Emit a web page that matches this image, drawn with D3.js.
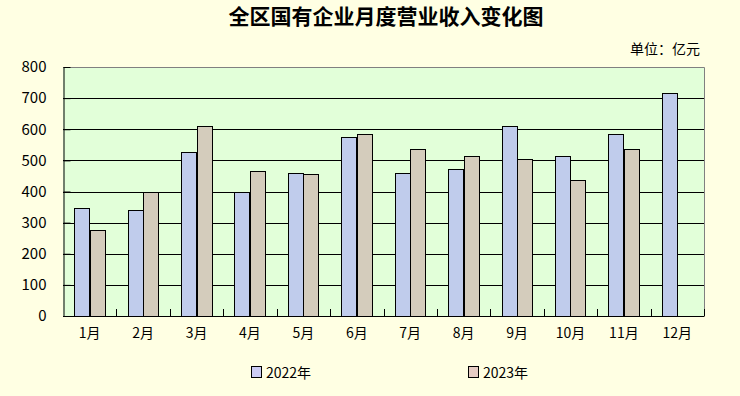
<!DOCTYPE html>
<html><head><meta charset="utf-8">
<script src="https://cdn.jsdelivr.net/npm/d3@7"></script>
<style>
html,body{margin:0;padding:0;background:#FFFFE3;}
svg{display:block;}
text{font-family:"Noto Sans CJK SC","DejaVu Sans",sans-serif;fill:#000;}
</style></head>
<body>
<script>
const months = ["1月","2月","3月","4月","5月","6月","7月","8月","9月","10月","11月","12月"];
const series = ["2022年","2023年"];
const values2022 = [346, 340, 526, 397, 460, 576, 461, 471, 610, 513, 584, 717];
const values2023 = [275, 400, 609, 467, 457, 586, 536, 513, 506, 438, 536, null];
const yTicks = [0,100,200,300,400,500,600,700,800];
const barColors = ["#C0CCEC","#D4CCBC"];
const legendColors = ["#CCCCF4","#E6CCC4"];

const W = 740, H = 396;
const m = {left:63, right:36, top:67, bottom:80};
const svg = d3.select("body").append("svg").attr("width",W).attr("height",H);

svg.append("rect").attr("width",W).attr("height",H).attr("fill","#FFFFE3");

const x = d3.scaleBand().domain(months).range([m.left, W-m.right]);
const y = d3.scaleLinear().domain([0,800]).range([H-m.bottom, m.top]);
const pw = W-m.right-m.left;

// plot background
svg.append("rect").attr("x",m.left).attr("y",m.top).attr("width",pw).attr("height",y(0)-m.top)
  .attr("fill","#E2FFD9");

// grid lines
svg.append("g").selectAll("line").data(yTicks.filter(d=>d>0 && d<800)).join("line")
  .attr("x1",m.left).attr("x2",W-m.right).attr("y1",d=>Math.round(y(d))+0.5).attr("y2",d=>Math.round(y(d))+0.5)
  .attr("stroke","#000").attr("stroke-width",1);

// border top/right grey
svg.append("path")
  .attr("d",`M${m.left},${Math.round(y(800))+0.5}H${W-m.right+0.5}V${y(0)}`)
  .attr("fill","none").attr("stroke","#808080");

// bars
const bw = x.bandwidth()*0.29;
const data = months.map((mo,i)=>({mo, v:[values2022[i], values2023[i]]}));
const g = svg.append("g");
data.forEach(d=>{
  const c = x(d.mo)+x.bandwidth()/2;
  d.v.forEach((v,k)=>{
    if(v==null) return;
    g.append("rect")
      .attr("x", Math.round(c - bw + k*bw)+0.5)
      .attr("y", Math.round(y(v))+0.5)
      .attr("width", Math.round(bw))
      .attr("height", Math.round(y(0)) - Math.round(y(v)))
      .attr("fill", barColors[k]).attr("stroke","#000").attr("stroke-width",1);
  });
});

// y axis
const yAxis = d3.axisLeft(y).tickValues(yTicks).tickSizeInner(-7).tickSizeOuter(0).tickPadding(17);
const ya = svg.append("g").attr("transform",`translate(${m.left+0.5},0)`).call(yAxis);
ya.select(".domain").attr("stroke","#000");
ya.selectAll(".tick line").attr("stroke","#000");
ya.selectAll("text").attr("font-size",15).attr("font-family","'Liberation Serif','DejaVu Serif',serif");

// x axis
const xAxis = d3.axisBottom(x).tickSize(0).tickPadding(12);
const xa = svg.append("g").attr("transform",`translate(0,${Math.round(y(0))+0.5})`).call(xAxis);
xa.select(".domain").attr("stroke","#000").attr("d",`M${m.left},0H${W-m.right+0.5}`);
xa.selectAll("text").attr("font-size",14);
// boundary ticks (inside)
svg.append("g").selectAll("line").data(months.slice(1).concat(["end"])).join("line")
  .attr("x1",d=> d==="end" ? W-m.right+0.5 : Math.round(x(d))+0.5)
  .attr("x2",d=> d==="end" ? W-m.right+0.5 : Math.round(x(d))+0.5)
  .attr("y1",Math.round(y(0))).attr("y2",Math.round(y(0))-7)
  .attr("stroke","#000");

// title
svg.append("text").attr("x",386).attr("y",24).attr("text-anchor","middle")
  .attr("font-size",21).attr("font-weight","bold").text("全区国有企业月度营业收入变化图");
svg.append("text").attr("x",700).attr("y",54).attr("text-anchor","end")
  .attr("font-size",14).text("单位：亿元");

// legend
const legX = [251, 468];
series.forEach((s,k)=>{
  svg.append("rect").attr("x",legX[k]+0.5).attr("y",366.5).attr("width",10).attr("height",11)
    .attr("fill",legendColors[k]).attr("stroke","#000");
  svg.append("text").attr("x",legX[k]+15).attr("y",378).attr("font-size",14).text(s);
});
</script>
</body></html>
